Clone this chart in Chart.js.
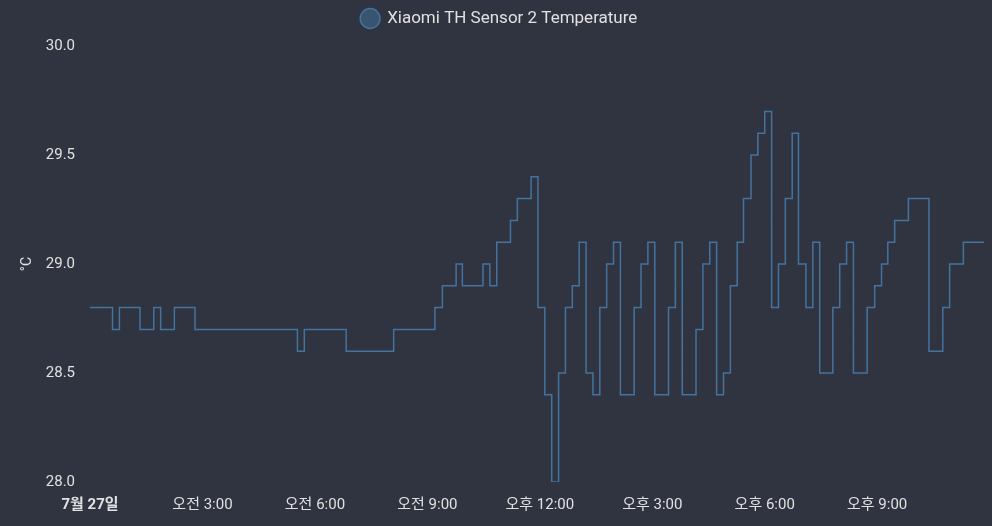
<!DOCTYPE html>
<html>
<head>
<meta charset="utf-8">
<script src="https://cdn.jsdelivr.net/npm/chart.js@4/dist/chart.umd.min.js"></script>
<style>
  html, body { margin: 0; padding: 0; background: #2f3440; }
  #wrap { width: 992px; height: 526px; position: relative; }
</style>
</head>
<body>
<div id="wrap"><canvas id="chart"></canvas></div>
<script>
// minutes since midnight (7/27) where the reading changed
const times = [
  0, 36, 47, 80, 102, 113, 135, 168, 332, 343, 410, 486,
  552, 564, 586, 596, 629, 640, 651, 673, 684, 706, 717, 728,
  739, 750, 761, 772, 783, 794, 805, 816, 827, 838, 849, 871,
  882, 893, 904, 926, 937, 948, 970, 981, 992, 1003, 1014, 1025,
  1036, 1046, 1058, 1069, 1080, 1091, 1102, 1113, 1124, 1134, 1146, 1157,
  1168, 1189, 1200, 1211, 1222, 1244, 1256, 1267, 1277, 1288, 1310, 1343,
  1365, 1376, 1398, 1431
];
const temps = [
  28.8, 28.7, 28.8, 28.7, 28.8, 28.7, 28.8, 28.7, 28.6, 28.7, 28.6, 28.7,
  28.8, 28.9, 29.0, 28.9, 29.0, 28.9, 29.1, 29.2, 29.3, 29.4, 28.8, 28.4,
  28.0, 28.5, 28.8, 28.9, 29.1, 28.5, 28.4, 28.8, 29.0, 29.1, 28.4, 28.8,
  29.0, 29.1, 28.4, 28.8, 29.1, 28.4, 28.7, 29.0, 29.1, 28.4, 28.5, 28.9,
  29.1, 29.3, 29.5, 29.6, 29.7, 28.8, 29.0, 29.3, 29.6, 29.0, 28.8, 29.1,
  28.5, 28.8, 29.0, 29.1, 28.5, 28.8, 28.9, 29.0, 29.1, 29.2, 29.3, 28.6,
  28.8, 29.0, 29.1, 29.1
];
const tickMinutes = [0, 180, 360, 540, 720, 900, 1080, 1260];
const tickLabels = ["7월 27일", "오전 3:00", "오전 6:00", "오전 9:00", "오후 12:00", "오후 3:00", "오후 6:00", "오후 9:00"];
const seriesName = "Xiaomi TH Sensor 2 Temperature";

const textColor = "#e1e1e1";
Chart.defaults.font.family = "Roboto, 'Noto Sans CJK KR', sans-serif";
Chart.defaults.color = textColor;

const points = times.map((t, i) => ({ x: t, y: temps[i] }));

// a bit more room between the legend and the plot
const legendGap = {
  id: "legendGap",
  beforeInit(chart) {
    const fit = chart.legend.fit;
    chart.legend.fit = function () {
      fit.bind(chart.legend)();
      this.height += 9;
    };
  },
};

new Chart(document.getElementById("chart"), {
  type: "line",
  data: {
    datasets: [
      {
        label: seriesName,
        data: points,
        stepped: true,
        borderColor: "#44739e",
        backgroundColor: "rgba(68,115,158,0.5)",
        borderWidth: 1.5,
        pointRadius: 0,
        fill: false,
      },
    ],
  },
  options: {
    responsive: true,
    maintainAspectRatio: false,
    animation: false,
    layout: { padding: { left: 15, right: 8, top: 0, bottom: 6 } },
    plugins: {
      legend: {
        labels: {
          usePointStyle: true,
          pointStyle: "circle",
          boxHeight: 14,
          font: { size: 17 },
          color: textColor,
        },
      },
      tooltip: { enabled: false },
    },
    scales: {
      x: {
        type: "linear",
        min: 0,
        max: 1431,
        grid: { display: false },
        border: { display: false },
        afterBuildTicks: (scale) => {
          scale.ticks = tickMinutes.map((v) => ({ value: v }));
        },
        ticks: {
          autoSkip: false,
          maxRotation: 0,
          padding: 6,
          font: (ctx) => ({ size: 15, weight: ctx.index === 0 ? "bold" : "normal" }),
          callback: (value, index) => tickLabels[index],
        },
      },
      y: {
        min: 28,
        max: 30,
        grid: { display: false },
        border: { display: false },
        title: { display: true, text: "°C", font: { size: 14 }, padding: { top: 4, bottom: 3 } },
        ticks: {
          stepSize: 0.5,
          padding: 7,
          font: { size: 15 },
          callback: (value) => value.toFixed(1),
        },
      },
    },
  },
  plugins: [legendGap],
});
</script>
</body>
</html>
